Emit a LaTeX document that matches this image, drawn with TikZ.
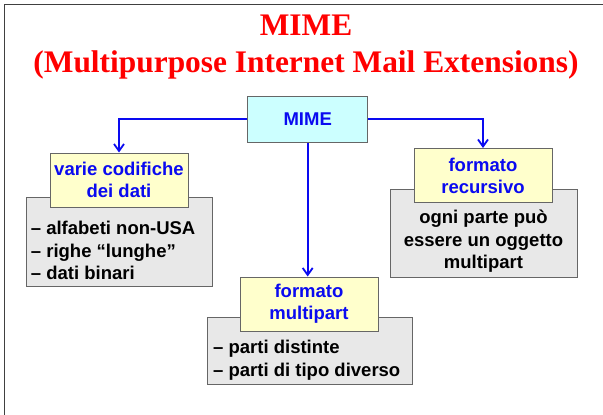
\documentclass[tikz,border=0pt]{standalone}
\usepackage{fontspec}
\setmainfont{Liberation Sans}
\newfontfamily\titlefont{Liberation Serif}
\usetikzlibrary{arrows.meta}

\definecolor{linkblue}{RGB}{10,10,240}
\definecolor{boxyellow}{RGB}{255,255,204}
\definecolor{boxcyan}{RGB}{204,255,255}
\definecolor{boxgray}{RGB}{232,232,232}

\begin{document}
\begin{tikzpicture}[x=1pt,y=-1pt]
	\tikzset{box/.style={draw=black!60, line width=1pt, inner sep=0pt, align=center,
		font=\bfseries\fontsize{18.5}{22}\selectfont}}
	\tikzset{head/.style={box, fill=boxyellow, text=linkblue, minimum width=138, minimum height=54}}
	\tikzset{list/.style={box, fill=boxgray}}
	\tikzset{items/.style={inner sep=0pt, font=\bfseries\fontsize{18.5}{22.5}\selectfont}}
	\tikzset{link/.style={linkblue, line width=1.8pt, -{Straight Barb[length=7pt,width=10pt]}}}
	\tikzset{heading/.style={anchor=base, text=red, font=\titlefont\bfseries\fontsize{31.4}{37}\selectfont}}

	\useasboundingbox (0,0) rectangle (603,415);
	\draw[black!75, line width=1.5pt] (4.5,415) -- (4.5,4.5) -- (603,4.5);

	% title
	\node[heading] (t1) at (306,35) {MIME};
	\node[heading] (t2) at (306,72) {(Multipurpose Internet Mail Extensions)};

	\node[box, fill=boxcyan, text=linkblue, minimum width=120, minimum height=46] (mime) at (307.7,119) {MIME};

	% grey boxes go underneath the yellow ones
	\node[list, minimum width=186, minimum height=89] (codbox) at (119,242) {};
	\node[list, minimum width=187, minimum height=88] (recbox) at (483.5,233) {};
	\node[list, minimum width=205, minimum height=67] (mpbox) at (309.5,350.5) {};

	\node[head] (cod) at (119,180) {varie codifiche\\dei dati};
	\node[head] (rec) at (483,175.5) {formato\\recursivo};
	\node[head] (mp) at (309,304) {formato\\multipart};

	\node[items, anchor=west, align=left] (codlist) at (30.7,250.5) {-- alfabeti non-USA\\-- righe ``lunghe''\\-- dati binari};
	\node[items, align=center] (reclist) at (483.5,241.5) {ogni parte può\\essere un oggetto\\multipart};
	\node[items, anchor=west, align=left] (mplist) at (213,360) {-- parti distinte\\-- parti di tipo diverso};

	\draw[link] (mime.west) -| (cod.north);
	\draw[link] (mime.east) -| (rec.north);
	\draw[link] (mime.south) -- (mime.south |- mp.north);
\end{tikzpicture}
\end{document}
